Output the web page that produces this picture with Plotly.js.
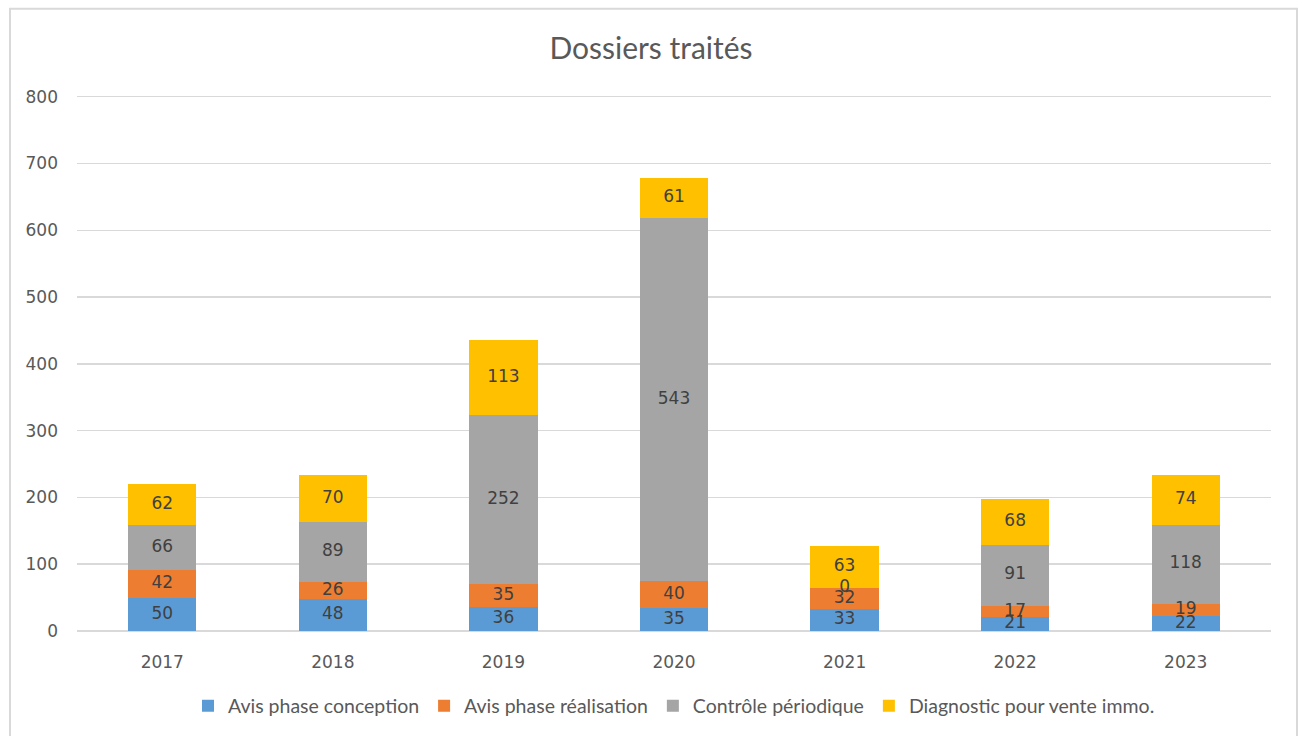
<!DOCTYPE html>
<html>
<head>
<meta charset="utf-8">
<script src="https://cdn.plot.ly/plotly-3.0.1.min.js"></script>
<style>
html,body{margin:0;padding:0;background:#fff;}
#chart{width:1302px;height:736px;}
</style>
</head>
<body>
<div id="chart"></div>
<script>
const years = ["2017","2018","2019","2020","2021","2022","2023"];
const seriesNames = ["Avis phase conception","Avis phase réalisation","Contrôle périodique","Diagnostic pour vente immo."];
const avisConception = [50,48,36,35,33,21,22];
const avisRealisation = [42,26,35,40,32,17,19];
const controlePeriodique = [66,89,252,543,0,91,118];
const diagnosticVente = [62,70,113,61,63,68,74];
const colors = ["#5b9bd5","#ed7d31","#a5a5a5","#ffc000"];
const yTicks = [0,100,200,300,400,500,600,700,800];

const allSeries = [avisConception, avisRealisation, controlePeriodique, diagnosticVente];
const FONT = "Lato, 'Open Sans', sans-serif";
const NUMFONT = "'DejaVu Sans', sans-serif";

const traces = [];
allSeries.forEach((vals, i) => {
  traces.push({
    type: "bar",
    name: seriesNames[i],
    x: years,
    y: vals,
    marker: {color: colors[i], line: {width: 0}},
    hoverinfo: "y+name"
  });
});
// labels at segment centers
const base = years.map(() => 0);
allSeries.forEach((vals, i) => {
  const ys = vals.map((v, k) => base[k] + v / 2);
  vals.forEach((v, k) => { base[k] += v; });
  traces.push({
    type: "scatter",
    mode: "text",
    x: years,
    y: ys,
    text: vals.map(String),
    textposition: "middle center",
    textfont: {family: NUMFONT, size: 17, color: "#404040"},
    showlegend: false,
    hoverinfo: "skip",
    cliponaxis: false
  });
});

const TOP = 90.31, BOT = 104, H = 736;
const plotH = H - TOP - BOT;
const paperY = (px) => (H - BOT - px) / plotH;

const layout = {
  width: 1302,
  height: H,
  barmode: "stack",
  bargap: 0.6,
  paper_bgcolor: "#ffffff",
  plot_bgcolor: "#ffffff",
  margin: {l: 77, r: 31, t: TOP, b: BOT},
  font: {family: FONT, color: "#595959", size: 16},
  title: {
    text: "Dossiers traités",
    font: {family: FONT, size: 30, color: "#595959"},
    x: 0.5, xanchor: "center",
    y: 1 - 48/736, yanchor: "middle"
  },
  xaxis: {
    type: "category",
    showgrid: false,
    showline: false,
    zeroline: false,
    ticks: "",
    tickfont: {family: NUMFONT, size: 17, color: "#595959"},
    ticklabelstandoff: 19
  },
  yaxis: {
    range: [0, 810],
    tickvals: yTicks,
    ticktext: yTicks.map(String),
    showgrid: true,
    gridcolor: "#d9d9d9",
    gridwidth: 1.5,
    zeroline: true,
    zerolinecolor: "#d9d9d9",
    zerolinewidth: 1.5,
    showline: false,
    ticks: "",
    ticklabelstandoff: 18,
    tickfont: {family: NUMFONT, size: 17, color: "#595959"}
  },
  legend: {
    orientation: "h",
    x: 0.5, xanchor: "center",
    y: paperY(706), yanchor: "middle",
    bgcolor: "rgba(0,0,0,0)",
    font: {family: FONT, size: 19.5, color: "#595959"},
    itemwidth: 30,
    traceorder: "normal"
  },
  shapes: [{
    type: "rect",
    xref: "paper", yref: "paper",
    x0: (10 - 77) / 1194, x1: (1297 - 77) / 1194,
    y0: paperY(760), y1: paperY(9),
    line: {color: "#d9d9d9", width: 2},
    fillcolor: "rgba(0,0,0,0)",
    layer: "below"
  }],
  showlegend: true
};

Plotly.newPlot("chart", traces, layout, {displayModeBar: false, staticPlot: true});
</script>
</body>
</html>
